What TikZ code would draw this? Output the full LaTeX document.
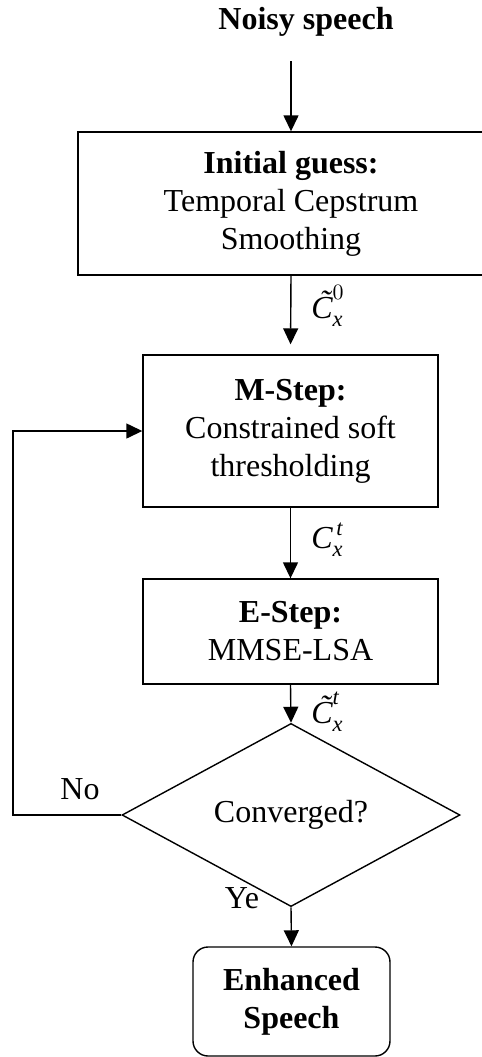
\documentclass[tikz,border=0pt]{standalone}
\usepackage{amsmath}
\usepackage{fontspec}
\setmainfont{Liberation Serif}
\usetikzlibrary{shapes.geometric,arrows.meta}

\tikzset{
    blk/.style={draw,line width=0.7pt,align=center,inner sep=0pt},
    flow/.style={line width=0.7pt,-{Triangle[length=8pt,width=7.5pt]}},
    lbl/.style={inner sep=1pt,anchor=west},
}

\begin{document}
\begin{tikzpicture}[x=0.5pt,y=-0.5pt,font=\fontsize{16}{19}\selectfont]
    \clip (0,0) rectangle (482,1057);
    \node (in) at (306,22) {\textbf{Noisy speech}};
    \coordinate (src) at (291,61);
    \node[blk,minimum width=213pt,minimum height=71.5pt] (init) at (291,203.5)
        {\textbf{Initial guess:}\\Temporal Cepstrum\\Smoothing};
    \node[blk,minimum width=147.5pt,minimum height=76pt] (mstep) at (290.5,431)
        {\textbf{M-Step:}\\Constrained soft\\thresholding};
    \node[blk,minimum width=147.5pt,minimum height=52.5pt] (estep) at (290.5,631.5)
        {\textbf{E-Step:}\\MMSE-LSA};
    \node[blk,diamond,minimum width=169pt,minimum height=83pt] (conv) at (291,815)
        {Converged?};
    \node[blk,rounded corners=7.5pt,minimum width=98.5pt,minimum height=54.5pt] (out) at (291.5,1001.5)
        {\textbf{Enhanced}\\\textbf{Speech}};
    \coordinate (back) at (13,815);

    \draw[flow] (src)--(init.north);
    \draw[flow,shorten >=5pt] (init.south)--(mstep.north);
    \draw[flow] (mstep.south)--(estep.north);
    \draw[flow] (estep.south)--(conv.north);
    \draw[flow] (conv.south)--(out.north);
    \draw[flow] (conv.west)--(back)|-(mstep.west);

    % signal labels beside the arrows
    \node[lbl] (c0) at (309,306) {$\text{\itshape\~C}_{\textit{x}}^{0}$};
    \node[lbl] (ct) at (309,540) {$\textit{C}_{\textit{x}}^{\,\textit{t}}$};
    \node[lbl] (ctt) at (309,712) {$\text{\itshape\~C}_{\textit{x}}^{\textit{t}}$};
    \node at (80,789) {No};
    \node at (242,898) {Ye};
\end{tikzpicture}
\end{document}
